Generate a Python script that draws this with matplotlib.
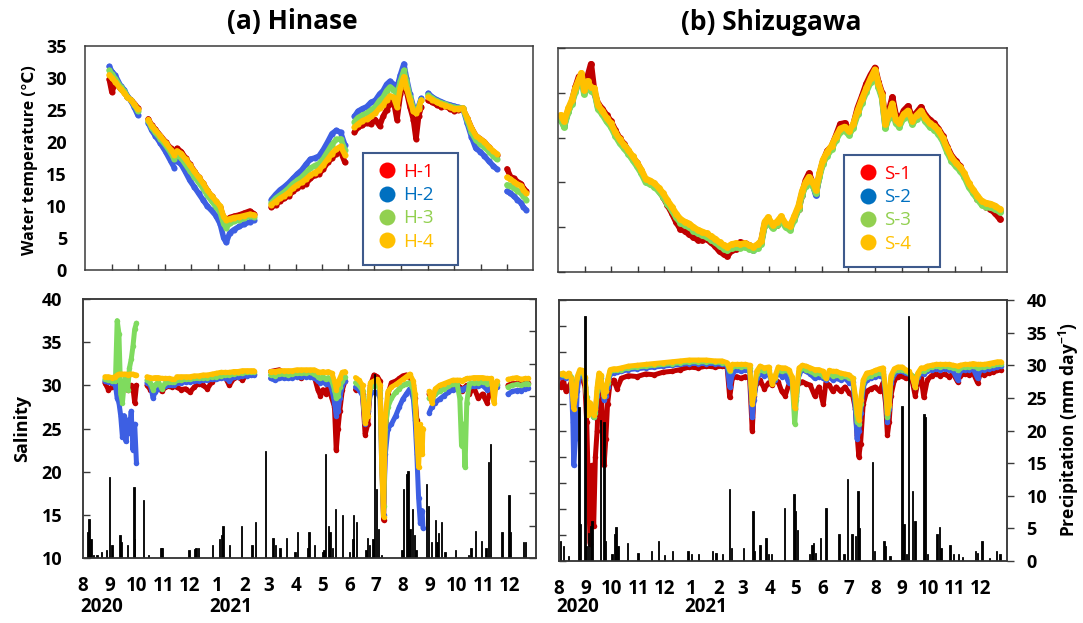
import numpy as np
import matplotlib
matplotlib.use("Agg")
import matplotlib.pyplot as plt
import matplotlib.dates as mdates
import matplotlib.transforms as mtransforms
from matplotlib.lines import Line2D
from matplotlib.patches import Rectangle

nan = np.nan

# all series are indexed by days since 1 Aug 2020
START = np.datetime64("2020-08-01")
END = np.datetime64("2021-12-31")

# ---------------- Hinase water temperature ----------------
hin_temp_day = [28, 31, 35, 41, 45, 49, 53, 57, 61,
                67,
                73, 77, 81, 87, 93, 99, 103,
                105,
                106, 111, 116, 121, 126, 131, 136, 141, 146, 151, 156, 160, 163, 167, 172, 178, 184, 190, 195,
                205,
                215, 220, 225, 230, 235, 240, 245, 250, 255, 260, 265, 270, 275, 280, 285, 290, 295, 300,
                305,
                311, 315, 320, 325, 330, 335, 340, 344, 348, 352, 356, 360, 364, 368, 371, 375, 379, 382, 385, 388,
                392,
                396, 401, 406, 411, 416, 421, 426, 431, 436, 441, 446, 451, 456, 461, 466, 471, 475,
                481,
                487, 491, 495, 499, 503, 506, 509]
hin_temp_h1 = [29.8, 27.8, 29.3, 28.3, 27.8, 27.0, 26.6, 26.0, 25.3,
               nan,
               23.6, 22.6, 22.0, 21.0, 20.0, 19.0, 18.3,
               nan,
               19.0, 18.5, 17.5, 16.5, 15.5, 14.5, 13.6, 12.5, 11.5, 10.7, 9.8, 8.2, 7.6, 8.2, 8.4, 8.6, 8.9, 9.2, 8.8,
               nan,
               9.8, 10.2, 10.8, 11.2, 11.6, 12.3, 12.8, 13.2, 13.5, 14.3, 14.8, 15.0, 15.8, 16.8, 17.5, 18.2, 18.5, 16.8,
               nan,
               21.5, 22.3, 22.6, 23.0, 22.8, 23.5, 22.5, 24.0, 25.0, 26.0, 26.5, 23.5, 27.5, 29.5, 28.0, 25.5, 23.5, 20.5, 24.0, 25.5,
               nan,
               26.5, 26.2, 25.8, 25.5, 25.6, 25.2, 24.9, 25.0, 25.2, 23.8, 22.2, 21.0, 20.5, 20.0, 19.2, 18.5, 18.0,
               nan,
               15.8, 14.6, 14.3, 13.8, 13.5, 12.8, 12.3]
hin_temp_h2 = [31.8, 31.0, 30.4, 28.8, 28.2, 27.2, 26.4, 25.4, 24.2,
               nan,
               23.0, 21.8, 21.0, 19.8, 18.5, 17.0, 16.0,
               nan,
               17.0, 16.5, 15.3, 14.0, 13.0, 12.0, 11.0, 10.0, 9.3, 8.5, 7.2, 5.0, 4.3, 5.8, 6.3, 6.8, 7.2, 7.5, 7.8,
               nan,
               11.0, 11.8, 12.5, 13.0, 13.6, 14.3, 15.0, 15.6, 16.5, 17.3, 17.5, 17.8, 18.8, 20.0, 21.3, 21.8, 21.5, 19.5,
               nan,
               24.0, 24.8, 25.2, 25.5, 26.2, 26.5, 27.5, 28.0, 29.0, 29.5, 29.0, 28.5, 30.5, 32.2, 30.0, 27.5, 25.5, 25.0, 25.6, 26.8,
               nan,
               27.6, 27.0, 26.6, 26.3, 26.0, 25.8, 25.6, 25.4, 25.3, 23.0, 20.8, 19.0, 18.5, 17.8, 17.0, 16.3, 15.8,
               nan,
               12.3, 12.0, 11.5, 11.0, 10.5, 9.8, 9.4]
hin_temp_h3 = [31.2, 30.6, 29.9, 28.6, 28.0, 27.1, 26.5, 25.8, 24.8,
               nan,
               23.3, 22.2, 21.5, 20.5, 19.5, 18.3, 17.3,
               nan,
               18.0, 17.5, 16.5, 15.5, 14.6, 13.7, 12.8, 11.7, 10.8, 9.9, 9.0, 7.2, 6.6, 7.3, 7.6, 7.8, 8.1, 8.4, 8.3,
               nan,
               10.5, 11.2, 11.7, 12.2, 12.8, 13.5, 14.0, 14.5, 15.2, 15.9, 16.3, 16.6, 17.4, 18.5, 19.6, 20.4, 20.5, 18.8,
               nan,
               23.2, 23.8, 24.2, 24.5, 25.0, 25.5, 26.5, 27.0, 28.0, 28.6, 28.2, 27.5, 29.5, 31.2, 29.5, 27.0, 25.2, 24.8, 25.4, 26.6,
               nan,
               27.3, 26.8, 26.4, 26.1, 25.9, 25.6, 25.4, 25.3, 25.3, 23.4, 21.5, 20.3, 19.7, 19.2, 18.5, 17.8, 17.3,
               nan,
               13.3, 13.2, 12.8, 12.4, 12.0, 11.5, 11.0]
hin_temp_h4 = [30.5, 30.0, 29.4, 28.3, 27.7, 27.0, 26.5, 25.9, 25.1,
               nan,
               23.5, 22.5, 21.9, 20.9, 19.9, 18.8, 18.0,
               nan,
               18.6, 18.2, 17.3, 16.4, 15.4, 14.5, 13.6, 12.5, 11.6, 10.8, 10.0, 8.3, 7.8, 8.0, 8.2, 8.3, 8.5, 8.7, 8.6,
               nan,
               10.2, 10.7, 11.2, 11.6, 12.1, 12.8, 13.3, 13.7, 14.2, 14.8, 15.2, 15.6, 16.4, 17.3, 18.2, 18.9, 19.3, 18.0,
               nan,
               22.3, 22.8, 23.3, 23.6, 24.0, 24.5, 25.3, 25.8, 26.6, 27.2, 27.0, 25.5, 28.5, 30.2, 28.5, 26.5, 24.8, 24.5, 25.2, 26.5,
               nan,
               27.0, 26.6, 26.2, 25.9, 25.7, 25.4, 25.2, 25.2, 25.3, 23.8, 22.2, 21.0, 20.5, 20.0, 19.2, 18.6, 18.2,
               nan,
               14.5, 14.2, 13.8, 13.4, 13.2, 12.5, 12.0]

# ---------------- Shizugawa water temperature ----------------
szg_temp_day = [3, 7, 12, 16, 20, 24, 27, 30, 34, 38,
                42, 46, 51, 56, 61, 66, 71, 76, 81, 86,
                91, 96, 101, 106, 111, 116, 121, 126, 131, 136,
                141, 146, 151, 156, 161, 166, 171, 176, 181, 186,
                191, 195, 200, 205, 210, 215, 220, 225, 230, 234,
                238, 242, 247, 252, 257, 262, 267, 272, 277, 281,
                285, 289, 293, 297, 301, 305, 310, 315, 320, 325,
                330, 335, 340, 345, 350, 355, 360, 365, 369, 373,
                377, 381, 385, 389, 393, 398, 403, 408, 413, 418,
                423, 428, 433, 438, 443, 448, 453, 458, 463, 468,
                473, 478, 483, 488, 493, 498, 503, 509]
szg_temp_s1 = [17.0, 16.5, 18.0, 19.0, 20.6, 21.8, 22.0, 20.5, 21.8, 23.2,
               20.0, 18.8, 18.2, 17.5, 16.8, 15.8, 14.9, 14.3, 13.5, 12.8,
               12.2, 11.3, 10.2, 10.0, 9.7, 9.1, 8.4, 7.5, 6.6, 5.6,
               4.8, 4.6, 4.2, 3.9, 3.6, 3.6, 3.7, 3.3, 2.9, 2.3,
               2.0, 1.8, 2.4, 2.6, 3.3, 3.2, 3.0, 2.6, 2.9, 3.4,
               5.3, 5.8, 5.0, 5.3, 6.0, 5.2, 5.0, 6.0, 7.0, 8.6,
               10.2, 11.0, 10.0, 8.8, 10.8, 12.3, 13.5, 14.0, 15.2, 16.5,
               16.6, 15.8, 16.4, 18.3, 19.6, 21.0, 22.0, 22.8, 21.2, 20.0,
               16.8, 18.0, 19.5, 17.5, 16.8, 18.0, 18.5, 17.2, 17.8, 18.4,
               17.5, 17.0, 16.6, 16.0, 15.2, 14.0, 13.0, 12.4, 11.8, 10.8,
               9.8, 9.0, 8.2, 7.6, 7.3, 7.0, 6.6, 5.9]
szg_temp_s2 = [17.2, 16.3, 18.1, 19.0, 20.3, 21.3, 22.0, 20.1, 21.0, 20.4,
               20.2, 18.4, 17.8, 17.0, 16.4, 15.4, 14.6, 14.0, 13.4, 12.7,
               12.0, 11.2, 10.2, 10.0, 9.7, 9.2, 8.6, 7.8, 7.1, 6.3,
               5.7, 5.4, 5.2, 4.8, 4.5, 4.3, 4.1, 3.8, 3.5, 3.1,
               2.8, 2.6, 2.9, 3.0, 2.9, 3.0, 2.8, 2.5, 2.9, 3.3,
               5.4, 5.8, 5.0, 5.4, 6.0, 5.2, 4.9, 6.0, 7.2, 8.8,
               9.8, 10.4, 9.9, 8.6, 10.8, 12.3, 13.2, 13.9, 14.9, 15.8,
               16.0, 15.5, 16.3, 17.8, 19.1, 20.3, 21.4, 22.4, 20.8, 19.6,
               16.2, 17.4, 18.6, 16.8, 16.4, 17.4, 17.8, 16.7, 17.3, 17.8,
               17.0, 16.4, 16.1, 15.6, 14.8, 13.6, 12.6, 12.0, 11.5, 10.8,
               9.7, 9.0, 8.3, 7.7, 7.5, 7.4, 7.2, 6.8]
szg_temp_s3 = [17.0, 16.2, 17.9, 18.8, 20.1, 21.1, 21.8, 19.9, 20.9, 20.2,
               20.1, 18.2, 17.6, 16.8, 16.2, 15.2, 14.4, 13.8, 13.2, 12.5,
               11.8, 11.0, 10.0, 9.8, 9.5, 9.0, 8.4, 7.6, 6.9, 6.1,
               5.5, 5.2, 5.0, 4.6, 4.3, 4.1, 3.9, 3.6, 3.3, 2.9,
               2.6, 2.4, 2.7, 2.8, 2.7, 2.8, 2.6, 2.4, 2.7, 3.1,
               5.2, 5.7, 4.9, 5.2, 5.8, 5.0, 4.7, 5.8, 7.0, 8.6,
               9.6, 10.2, 9.7, 8.8, 10.6, 12.1, 13.0, 13.7, 14.7, 15.6,
               15.8, 15.3, 16.1, 17.6, 18.9, 20.1, 21.2, 22.2, 20.6, 19.4,
               16.1, 17.2, 18.4, 16.6, 16.2, 17.2, 17.6, 16.5, 17.1, 17.6,
               16.8, 16.2, 15.9, 15.4, 14.6, 13.4, 12.4, 11.8, 11.3, 10.6,
               9.5, 8.8, 8.1, 7.5, 7.3, 7.2, 7.0, 6.7]
szg_temp_s4 = [17.5, 16.8, 18.3, 19.2, 20.5, 21.5, 22.2, 20.3, 21.3, 20.6,
               20.5, 18.6, 18.0, 17.2, 16.6, 15.6, 14.8, 14.2, 13.6, 12.9,
               12.2, 11.4, 10.4, 10.2, 9.9, 9.4, 8.8, 8.0, 7.3, 6.5,
               5.9, 5.6, 5.4, 5.0, 4.7, 4.5, 4.3, 4.0, 3.7, 3.3,
               3.0, 2.8, 3.1, 3.2, 3.1, 3.2, 3.0, 2.8, 3.1, 3.5,
               5.6, 6.1, 5.3, 5.6, 6.2, 5.4, 5.1, 6.2, 7.4, 9.0,
               10.0, 10.6, 10.1, 9.2, 11.0, 12.5, 13.4, 14.1, 15.1, 16.0,
               16.2, 15.7, 16.5, 18.0, 19.3, 20.5, 21.6, 22.6, 21.0, 19.8,
               16.5, 17.6, 18.8, 17.0, 16.6, 17.6, 18.0, 16.9, 17.5, 18.0,
               17.2, 16.6, 16.3, 15.8, 15.0, 13.8, 12.8, 12.2, 11.7, 11.0,
               9.9, 9.2, 8.5, 7.9, 7.7, 7.6, 7.4, 7.0]

# ---------------- Hinase salinity ----------------
hin_sal_day = [25, 29, 33, 37, 39, 41, 43, 45, 47, 49, 51, 53, 55, 57, 59, 61,
               67,
               73, 77, 80, 82, 86, 90, 94, 98, 102, 104,
               105,
               107, 112, 117, 122, 127, 132, 137, 142, 147, 152, 157, 162, 167, 172, 177, 182, 187, 192, 195,
               205,
               214, 219, 224, 229, 234, 239, 244, 249, 254, 259, 264, 268, 271, 274, 277, 280, 284, 287, 289, 291, 293, 296, 299,
               305,
               311, 315, 319, 322, 325, 328, 332, 336, 339, 341, 343, 345, 348, 352, 357, 361, 365, 369, 373, 377, 379, 381, 383, 385, 387, 388,
               392,
               395, 398, 402, 407, 412, 417, 422, 427, 430, 432, 434, 436, 438, 441, 446, 451, 456, 461, 466, 469, 472,
               479,
               485, 490, 495, 500, 505, 508]
hin_sal_h1 = [30.3, 29.5, 29.8, 30.2, 30.3, 30.0, 29.6, 29.8, 30.0, 29.6, 29.5, 29.8, 30.0, 29.7, 28.0, 30.0,
              nan,
              30.0, 29.5, 29.6, 29.8, 29.8, 29.3, 29.8, 29.9, 29.8, 30.0,
              nan,
              29.8, 29.5, 29.6, 29.2, 29.8, 30.2, 30.0, 29.6, 30.4, 30.8, 31.2, 31.0, 30.0, 30.8, 31.0, 30.6, 31.3, 31.3, 31.3,
              nan,
              31.6, 31.7, 31.8, 31.5, 31.6, 31.2, 31.6, 30.8, 31.7, 31.5, 31.0, 29.5, 28.8, 29.5, 29.0, 29.8, 28.5, 27.5, 22.5, 25.0, 27.0, 29.5, 30.5,
              nan,
              29.5, 29.8, 29.0, 24.3, 25.5, 30.0, 31.2, 31.0, 30.5, 22.0, 14.4, 24.0, 29.0, 30.3, 30.5, 30.8, 31.1, 31.2, 31.0, 30.0, 28.5, 26.0, nan, nan, nan, nan,
              nan,
              29.0, 28.5, 29.3, 29.5, 29.7, 29.9, 30.0, 30.1, 29.8, 29.3, 29.6, 29.8, 30.0, 29.0, 29.8, 28.5, 29.0, 28.0, 29.8, 29.5, 30.0,
              nan,
              30.0, 30.2, 30.2, 30.2, 30.3, 30.3]
hin_sal_h2 = [30.5, 30.4, 30.3, 30.0, 28.5, 28.0, 26.5, 24.0, 26.5, 23.5, 26.0, 24.5, 27.0, 22.5, 25.5, 21.0,
              nan,
              30.3, 30.0, 28.5, 29.2, 29.6, 29.8, 29.9, 30.0, 30.0, 30.0,
              nan,
              30.3, 30.3, 30.4, 30.4, 30.5, 30.5, 30.6, 30.6, 30.7, 30.7, 30.8, 30.9, 30.5, 31.0, 31.0, 31.1, 31.1, 31.2, 31.2,
              nan,
              30.8, 30.6, 30.8, 30.9, 30.8, 30.9, 31.0, 31.0, 31.0, 31.0, 30.9, 30.5, 30.3, 30.4, 30.2, 30.5, 29.5, 28.0, 26.5, 27.0, 28.5, 30.0, 30.5,
              nan,
              29.8, 29.5, 28.8, 25.5, 27.0, 29.0, 29.2, 29.2, 28.5, 20.5, 15.0, 22.0, 25.0, 25.5, 26.5, 27.5, 28.4, 29.0, 29.6, 28.5, 26.0, 22.0, 17.0, 14.0, 15.5, 13.5,
              nan,
              26.8, 27.5, 28.0, 28.4, 28.8, 29.2, 29.5, 29.7, 29.6, 29.5, 29.6, 29.7, 29.8, 29.8, 29.9, 29.9, 30.0, 29.5, 30.0, 29.5, 29.8,
              nan,
              29.0, 29.3, 29.4, 29.4, 29.6, 29.7]
hin_sal_h3 = [30.7, 30.6, 30.5, 30.5, 37.5, 36.0, 29.0, 28.0, 30.2, 31.0, 29.5, 32.0, 33.0, 34.5, 36.5, 37.2,
              nan,
              30.6, 30.3, 29.5, 30.0, 30.4, 29.6, 30.3, 30.4, 30.4, 30.4,
              nan,
              30.6, 30.6, 30.7, 30.7, 30.8, 30.8, 30.9, 30.9, 31.0, 31.0, 31.1, 31.2, 31.2, 31.3, 31.4, 31.4, 31.5, 31.5, 31.5,
              nan,
              31.2, 31.1, 31.3, 31.3, 31.2, 31.3, 31.4, 31.4, 31.4, 31.5, 31.3, 31.0, 30.8, 31.0, 30.7, 30.9, 30.5, 29.5, 28.5, 28.8, 29.8, 30.5, 31.0,
              nan,
              30.3, 30.0, 29.4, 26.0, 27.5, 29.8, 29.9, 30.0, 29.5, 22.0, 16.0, 25.0, 27.5, 28.5, 29.2, 29.6, 30.0, 30.2, 30.3, 29.5, 27.5, 25.0, nan, nan, nan, nan,
              nan,
              28.5, 28.3, 29.0, 29.3, 29.6, 29.9, 30.1, 30.1, 28.5, 23.0, 25.5, 20.5, 28.0, 30.2, 30.3, 30.3, 30.4, 30.2, 30.3, 29.8, 30.2,
              nan,
              29.8, 30.0, 30.1, 30.0, 30.2, 30.2]
hin_sal_h4 = [31.0, 31.0, 30.9, 31.0, 31.2, 31.3, 31.3, 31.3, 31.3, 31.3, 31.2, 31.3, 31.3, 31.3, 31.2, 31.2,
              nan,
              31.0, 30.9, 30.8, 30.9, 30.9, 30.8, 30.8, 30.8, 30.7, 30.7,
              nan,
              31.0, 31.0, 31.0, 31.0, 31.1, 31.1, 31.2, 31.2, 31.3, 31.4, 31.5, 31.5, 31.5, 31.6, 31.6, 31.7, 31.7, 31.7, 31.7,
              nan,
              31.6, 31.6, 31.7, 31.7, 31.7, 31.7, 31.8, 31.8, 31.8, 31.8, 31.8, 31.6, 31.5, 31.6, 31.5, 31.6, 31.4, 30.5, 29.5, 30.2, 30.8, 31.5, 31.6,
              nan,
              30.9, 30.6, 30.0, 25.6, 26.5, 30.3, 30.5, 30.7, 30.0, 20.0, 14.8, 26.5, 29.3, 29.8, 30.1, 30.4, 30.7, 31.0, 31.3, 30.5, 29.0, 24.0, 20.5, 25.5, 22.0, 25.0,
              nan,
              29.3, 28.0, 29.6, 30.0, 30.2, 30.4, 30.6, 30.6, 30.6, 30.5, 30.6, 30.7, 30.8, 30.8, 30.9, 30.9, 30.9, 30.8, 30.8, 28.0, 30.5,
              nan,
              30.7, 30.8, 30.9, 30.7, 30.8, 30.8]

# ---------------- Shizugawa salinity ----------------
szg_sal_day = [2, 5, 8, 11, 14, 16, 17, 19, 21, 24,
               27, 30, 32, 34, 36, 38, 40, 42, 44, 46,
               48, 50, 52, 54, 56, 59, 63, 67, 72, 80,
               90, 100, 110, 120, 130, 140, 150, 160, 170, 180,
               188, 194, 197, 200, 205, 210, 215, 220, 223, 225,
               228, 232, 237, 242, 246, 249, 253, 257, 261, 265,
               269, 272, 274, 277, 281, 285, 290, 295, 300, 305,
               308, 312, 316, 320, 325, 330, 335, 339, 342, 344,
               346, 348, 351, 355, 360, 365, 370, 374, 377, 379,
               381, 383, 387, 391, 396, 400, 404, 408, 411, 414,
               418, 421, 425, 430, 435, 440, 445, 450, 455, 460,
               463, 468, 473, 478, 483, 486, 491, 496, 501, 506,
               510]
szg_sal_s1 = [30.0, 30.8, 29.5, 30.0, 30.5, 29.8, 30.0, 30.5, 30.8, 31.0,
              31.0, 30.0, 26.0, 18.0, 12.0, 21.0, 14.0, 22.0, 25.0, 30.0,
              30.3, 27.0, 21.0, 24.0, 28.0, 30.5, 30.8, 29.8, 31.0, 31.3,
              31.2, 31.5, 31.4, 31.7, 31.8, 32.0, 32.3, 32.2, 32.4, 32.3,
              32.4, 32.3, 28.8, 31.0, 31.2, 31.0, 31.2, 31.0, 25.0, 29.0,
              30.5, 30.8, 29.8, 30.5, 30.2, 30.8, 30.6, 29.5, 29.0, 30.2,
              30.5, 30.0, 30.2, 30.5, 30.6, 30.4, 30.2, 29.0, 30.0, 28.0,
              30.5, 30.2, 29.5, 30.0, 29.5, 30.0, 29.3, 29.0, 27.5, 24.5,
              22.0, 23.5, 28.0, 29.5, 29.8, 30.0, 29.5, 30.5, 28.0, 24.5,
              26.0, 29.0, 30.8, 31.2, 31.3, 31.0, 31.2, 30.5, 29.0, 30.5,
              31.0, 28.8, 30.8, 31.3, 31.5, 31.3, 31.5, 31.2, 31.5, 30.6,
              31.3, 31.5, 31.4, 31.6, 30.5, 31.5, 31.4, 31.6, 31.7, 31.9,
              32.0]
szg_sal_s2 = [31.2, 31.3, 31.0, 31.2, 31.0, 26.0, 21.0, 24.0, 29.5, 31.5,
              31.5, 30.8, 28.5, 27.0, 28.0, 27.0, 26.5, 27.2, 29.0, 31.0,
              31.0, 30.0, 28.5, 29.0, 30.0, 31.5, 31.6, 31.7, 31.8, 32.0,
              32.1, 32.2, 32.3, 32.4, 32.5, 32.6, 32.7, 32.7, 32.7, 32.7,
              32.6, 32.5, 30.0, 31.5, 32.0, 31.8, 32.0, 31.8, 26.5, 28.5,
              31.0, 31.5, 31.3, 31.5, 30.5, 30.8, 31.8, 31.2, 31.5, 30.5,
              30.8, 27.5, 29.0, 31.5, 32.0, 31.8, 31.5, 31.0, 31.2, 31.0,
              30.8, 31.2, 30.8, 31.0, 30.8, 31.0, 30.5, 30.6, 27.5, 24.0,
              25.0, 27.0, 30.0, 30.8, 31.0, 31.2, 31.3, 31.5, 29.0, 26.0,
              27.5, 30.5, 31.5, 31.8, 31.8, 31.6, 31.5, 31.2, 30.0, 31.2,
              31.6, 31.5, 31.8, 32.0, 32.1, 32.0, 32.1, 32.0, 31.8, 30.8,
              31.8, 32.0, 32.0, 32.1, 31.0, 32.0, 32.0, 32.1, 32.2, 32.3,
              32.4]
szg_sal_s3 = [31.5, 31.4, 31.3, 31.5, 31.2, 29.5, 28.5, 30.0, 31.0, 31.8,
              31.8, 31.0, 28.8, 27.0, 28.0, 27.0, 26.5, 27.0, 29.5, 31.4,
              31.3, 30.0, 29.0, 29.5, 30.5, 31.8, 31.9, 32.0, 32.0, 32.2,
              32.3, 32.4, 32.5, 32.6, 32.7, 32.8, 32.9, 32.9, 32.9, 32.9,
              32.8, 32.7, 31.8, 32.3, 32.4, 32.3, 32.4, 32.2, 28.5, 29.5,
              31.5, 32.0, 31.8, 32.0, 30.5, 31.0, 32.0, 31.8, 31.9, 31.8,
              31.0, 25.8, 28.5, 31.8, 32.2, 32.0, 31.8, 31.5, 31.6, 31.3,
              31.0, 31.5, 31.3, 31.4, 31.2, 31.3, 31.0, 31.0, 28.5, 26.0,
              25.8, 28.0, 30.5, 31.2, 31.3, 31.5, 31.6, 31.8, 29.5, 26.5,
              27.8, 31.0, 31.8, 32.0, 32.0, 31.8, 31.6, 31.3, 30.0, 31.5,
              31.9, 31.8, 32.1, 32.3, 32.4, 32.3, 32.4, 32.3, 32.2, 32.0,
              32.2, 32.3, 32.3, 32.4, 32.2, 32.3, 32.3, 32.4, 32.5, 32.6,
              32.6]
szg_sal_s4 = [31.5, 31.6, 31.3, 31.6, 31.0, 28.5, 27.5, 29.0, 31.2, 32.0,
              31.9, 31.2, 28.5, 26.8, 28.2, 27.2, 26.8, 27.5, 30.0, 31.6,
              31.4, 30.0, 29.0, 29.5, 30.8, 32.0, 32.1, 32.1, 32.2, 32.4,
              32.5, 32.6, 32.7, 32.8, 32.9, 33.0, 33.1, 33.1, 33.1, 33.0,
              33.0, 32.8, 32.0, 32.6, 32.6, 32.6, 32.6, 32.5, 28.0, 29.2,
              31.8, 32.4, 32.2, 32.3, 30.3, 31.2, 32.3, 32.2, 32.2, 32.0,
              31.2, 27.6, 29.5, 32.2, 32.5, 32.4, 32.2, 32.0, 32.0, 31.8,
              31.0, 31.9, 31.8, 31.8, 31.6, 31.5, 31.4, 31.0, 29.0, 27.0,
              26.2, 28.5, 30.8, 31.6, 31.7, 31.9, 32.1, 32.2, 29.8, 27.0,
              28.0, 31.3, 32.1, 32.3, 32.3, 32.0, 31.8, 31.0, 30.0, 31.6,
              32.2, 32.2, 32.4, 32.5, 32.6, 32.6, 32.6, 32.6, 32.5, 32.4,
              32.5, 32.6, 32.6, 32.7, 32.6, 32.6, 32.6, 32.7, 32.8, 32.9,
              32.9]

# ---------------- daily precipitation (mm/day) ----------------
hin_rain_day = [5, 7, 9, 12, 16, 21, 27, 30, 33, 42,
                44, 51, 58, 59, 69, 75, 89, 90, 121, 128,
                129, 132, 148, 156, 158, 160, 167, 181, 193, 197,
                208, 217, 220, 225, 232, 242, 245, 257, 258, 264,
                273, 275, 277, 280, 282, 285, 288, 296, 304, 308,
                309, 312, 323, 325, 327, 331, 333, 335, 337, 341,
                364, 366, 369, 371, 373, 376, 378, 380, 392, 394,
                398, 402, 404, 406, 409, 413, 425, 440, 443, 448,
                455, 460, 463, 465, 478, 486, 488, 503, 505]
hin_rain = [4.0, 6.1, 3.0, 0.5, 0.5, 0.9, 1.2, 12.5, 2.0, 3.5,
            2.5, 2.0, 11.0, 3.0, 9.0, 0.4, 1.5, 1.5, 1.2, 1.4,
            1.5, 1.5, 2.0, 3.0, 3.5, 5.0, 2.0, 4.9, 2.0, 5.6,
            16.6, 3.1, 2.0, 1.5, 3.1, 0.9, 4.0, 1.5, 4.0, 2.0,
            0.9, 1.2, 16.1, 5.0, 4.0, 1.5, 7.6, 6.6, 0.9, 3.0,
            6.6, 5.6, 1.2, 3.1, 2.0, 3.0, 28.4, 10.7, 4.5, 0.4,
            1.2, 10.7, 13.0, 13.5, 4.5, 7.6, 3.5, 1.3, 11.5, 8.1,
            2.5, 5.9, 2.5, 3.9, 5.6, 0.9, 1.2, 0.4, 1.5, 4.1,
            2.6, 1.5, 14.8, 17.6, 4.0, 9.7, 4.0, 2.5, 2.4]

szg_rain_day = [2, 5, 11, 23, 25, 30, 32, 34, 36, 38,
                48, 52, 54, 61, 64, 66, 68, 79, 91, 107,
                115, 122, 131, 149, 153, 161, 177, 181, 189, 197,
                199, 213, 224, 225, 232, 239, 242, 245, 260, 271,
                273, 275, 289, 292, 294, 296, 302, 308, 323, 329,
                333, 338, 342, 345, 346, 362, 364, 375, 377, 382,
                396, 398, 401, 403, 408, 411, 421, 423, 425, 436,
                439, 441, 451, 455, 461, 466, 481, 483, 488, 497,
                505, 509]
szg_rain = [3.0, 2.3, 0.7, 23.6, 5.6, 37.6, 2.3, 4.3, 5.3, 6.1,
            21.6, 21.3, 3.0, 1.1, 4.1, 5.2, 2.3, 2.7, 1.3, 1.5,
            3.0, 0.9, 1.5, 1.5, 1.1, 1.1, 1.5, 1.3, 1.0, 11.1,
            2.0, 2.0, 7.6, 1.5, 2.5, 3.6, 1.1, 1.1, 8.1, 10.2,
            7.6, 4.8, 1.0, 2.5, 2.8, 1.3, 3.6, 8.1, 4.1, 1.1,
            12.6, 4.1, 3.8, 10.8, 5.1, 15.1, 1.5, 3.0, 2.3, 0.7,
            23.7, 5.6, 1.0, 37.6, 10.7, 6.1, 22.6, 22.1, 1.1, 4.1,
            5.2, 2.0, 2.5, 1.0, 1.1, 0.6, 1.5, 1.2, 3.0, 0.5,
            1.5, 1.0]

hin_names = ["H-1", "H-2", "H-3", "H-4"]
szg_names = ["S-1", "S-2", "S-3", "S-4"]

DOT_COLORS = ["#C00000", "#3D5FE3", "#7FDB5E", "#FFC000"]
KEY_COLORS = ["#FF0000", "#0070C0", "#92D050", "#FFC000"]
SPINE = "#3A3A3A"

W, H = 1083, 623

plt.rcParams["font.family"] = ["Open Sans", "DejaVu Sans"]
plt.rcParams["font.weight"] = "bold"
plt.rcParams["mathtext.fontset"] = "custom"
plt.rcParams["mathtext.rm"] = "Open Sans:bold"
plt.rcParams["mathtext.bf"] = "Open Sans:bold"
plt.rcParams["mathtext.default"] = "rm"


def to_dates(days):
    return START + np.array(days, dtype=int)


def px_axes(fig, x0, y0, x1, y1):
    # axes placed by pixel box (left, top, right, bottom)
    return fig.add_axes([x0 / W, 1 - y1 / H, (x1 - x0) / W, (y1 - y0) / H])


def style_frame(ax):
    for s in ax.spines.values():
        s.set_color(SPINE)
        s.set_linewidth(1.1)


def plot_sensors(ax, days, series, lw):
    x = to_dates(days)
    for vals, col in zip(series, DOT_COLORS):
        ax.plot(x, vals, color=col, lw=lw, marker="o", ms=lw * 1.1, mew=0,
                solid_joinstyle="round", solid_capstyle="round")


def add_key(fig, ax, names, box):
    x0, y0, x1, y1 = box
    frame = Rectangle((x0 / W, 1 - y1 / H), (x1 - x0) / W, (y1 - y0) / H,
                      transform=fig.transFigure, facecolor="white",
                      edgecolor="#3E5A8C", lw=1.5, zorder=4)
    ax.add_patch(frame)
    handles = [Line2D([], [], ls="none", marker="o", ms=11.5, mew=0, color=c)
               for c in KEY_COLORS]
    leg = ax.legend(handles, names, loc="upper left",
                    bbox_to_anchor=((x0 + 12) / W, 1 - (y0 + 10) / H),
                    bbox_transform=fig.transFigure, frameon=False,
                    borderpad=0, borderaxespad=0, handlelength=1.33,
                    handletextpad=0.15, labelspacing=0.28,
                    prop={"family": ["Open Sans"], "size": 13.5, "weight": "normal"})
    leg.set_zorder(5)
    for t, c in zip(leg.get_texts(), KEY_COLORS):
        t.set_color(c)


months = np.arange("2020-08", "2022-01", dtype="datetime64[M]")
month_days = months.astype("datetime64[D]")
month_labels = [str(int(str(m)[5:7])) for m in months]

fig = plt.figure(figsize=(W / 100, H / 100), dpi=100)

# ---- top row: water temperature ----
ax_ht = px_axes(fig, 85, 46, 533, 270)
ax_st = px_axes(fig, 558, 48, 1007, 272)

plot_sensors(ax_ht, hin_temp_day, [hin_temp_h1, hin_temp_h2, hin_temp_h3, hin_temp_h4], 4.0)
plot_sensors(ax_st, szg_temp_day, [szg_temp_s1, szg_temp_s2, szg_temp_s3, szg_temp_s4], 4.5)

ax_ht.set_ylim(0, 35)
ax_ht.set_yticks(range(0, 36, 5))
ax_ht.tick_params(axis="y", length=0, pad=13, labelsize=13, colors="black")
ax_st.set_ylim(0, 25)
ax_st.set_yticks(range(0, 26, 5))
ax_st.tick_params(axis="y", direction="in", length=5, width=1, color=SPINE, labelleft=False)

for ax in (ax_ht, ax_st):
    ax.set_xlim(START, END)
    ax.set_xticks(month_days[1:])
    ax.tick_params(axis="x", direction="in", length=4.5, width=1, color=SPINE, labelbottom=False)
    style_frame(ax)

add_key(fig, ax_ht, hin_names, (363, 153, 458, 265))
add_key(fig, ax_st, szg_names, (844, 155, 940, 267))

# ---- bottom row: salinity with precipitation ----
ax_hs = px_axes(fig, 83, 299, 536, 558)
ax_ss = px_axes(fig, 559, 300, 1007, 561)

plot_sensors(ax_hs, hin_sal_day, [hin_sal_h1, hin_sal_h2, hin_sal_h3, hin_sal_h4], 3.6)
plot_sensors(ax_ss, szg_sal_day, [szg_sal_s1, szg_sal_s2, szg_sal_s3, szg_sal_s4], 3.6)

ax_hs.set_ylim(10, 40)
ax_hs.set_yticks(range(10, 41, 5))
ax_hs.tick_params(axis="y", direction="in", length=5, width=1, color=SPINE, pad=15, labelsize=13)
ax_ss.set_ylim(10, 40)
ax_ss.set_yticks(range(10, 41, 3))
ax_ss.tick_params(axis="y", direction="in", length=5, width=1, color=SPINE, labelleft=False)

rain_axes = []
for ax, rday, rain in ((ax_hs, hin_rain_day, hin_rain), (ax_ss, szg_rain_day, szg_rain)):
    rx = ax.twinx()
    rx.bar(to_dates(rday), rain, width=1.6, color="black",
           edgecolor="black", linewidth=0.6)
    rx.set_ylim(0, 40)
    rx.set_yticks(range(0, 41, 5))
    style_frame(rx)
    rain_axes.append(rx)

rain_axes[0].tick_params(axis="y", direction="in", length=5, width=1, color=SPINE, labelright=False)
rain_axes[1].tick_params(axis="y", direction="out", length=5, width=1, color=SPINE, pad=9, labelsize=13)

for ax in (ax_hs, ax_ss):
    ax.set_xlim(START, END)
    ax.set_xticks(month_days)
    ax.set_xticklabels(month_labels)
    ax.tick_params(axis="x", length=0, pad=13, labelsize=13.5)
    style_frame(ax)
    for rx in rain_axes:
        rx.set_xlim(START, END)
    trans = mtransforms.blended_transform_factory(ax.transData, fig.transFigure)
    ax.text(mdates.date2num(np.datetime64("2020-07-29")), 1 - 607 / H, "2020",
            transform=trans, ha="left", va="center", fontsize=13.5)
    ax.text(mdates.date2num(np.datetime64("2020-12-23")), 1 - 607 / H, "2021",
            transform=trans, ha="left", va="center", fontsize=13.5)

# ---- titles and axis names ----
fig.text(292 / W, 1 - 22 / H, "(a) Hinase", ha="center", va="center", fontsize=19)
fig.text(771 / W, 1 - 22 / H, "(b) Shizugawa", ha="center", va="center", fontsize=19)
fig.text(30 / W, 1 - 160 / H, "Water temperature (\u2103)", rotation=90,
         ha="center", va="center", fontsize=11.5)
fig.text(22 / W, 1 - 428 / H, "Salinity", rotation=90, ha="center", va="center", fontsize=13)
fig.text(1069 / W, 1 - 430 / H, r"Precipitation (mm day$^{-1}$)", rotation=90,
         ha="center", va="center", fontsize=12.5)

fig.savefig("out.png", dpi=100)
